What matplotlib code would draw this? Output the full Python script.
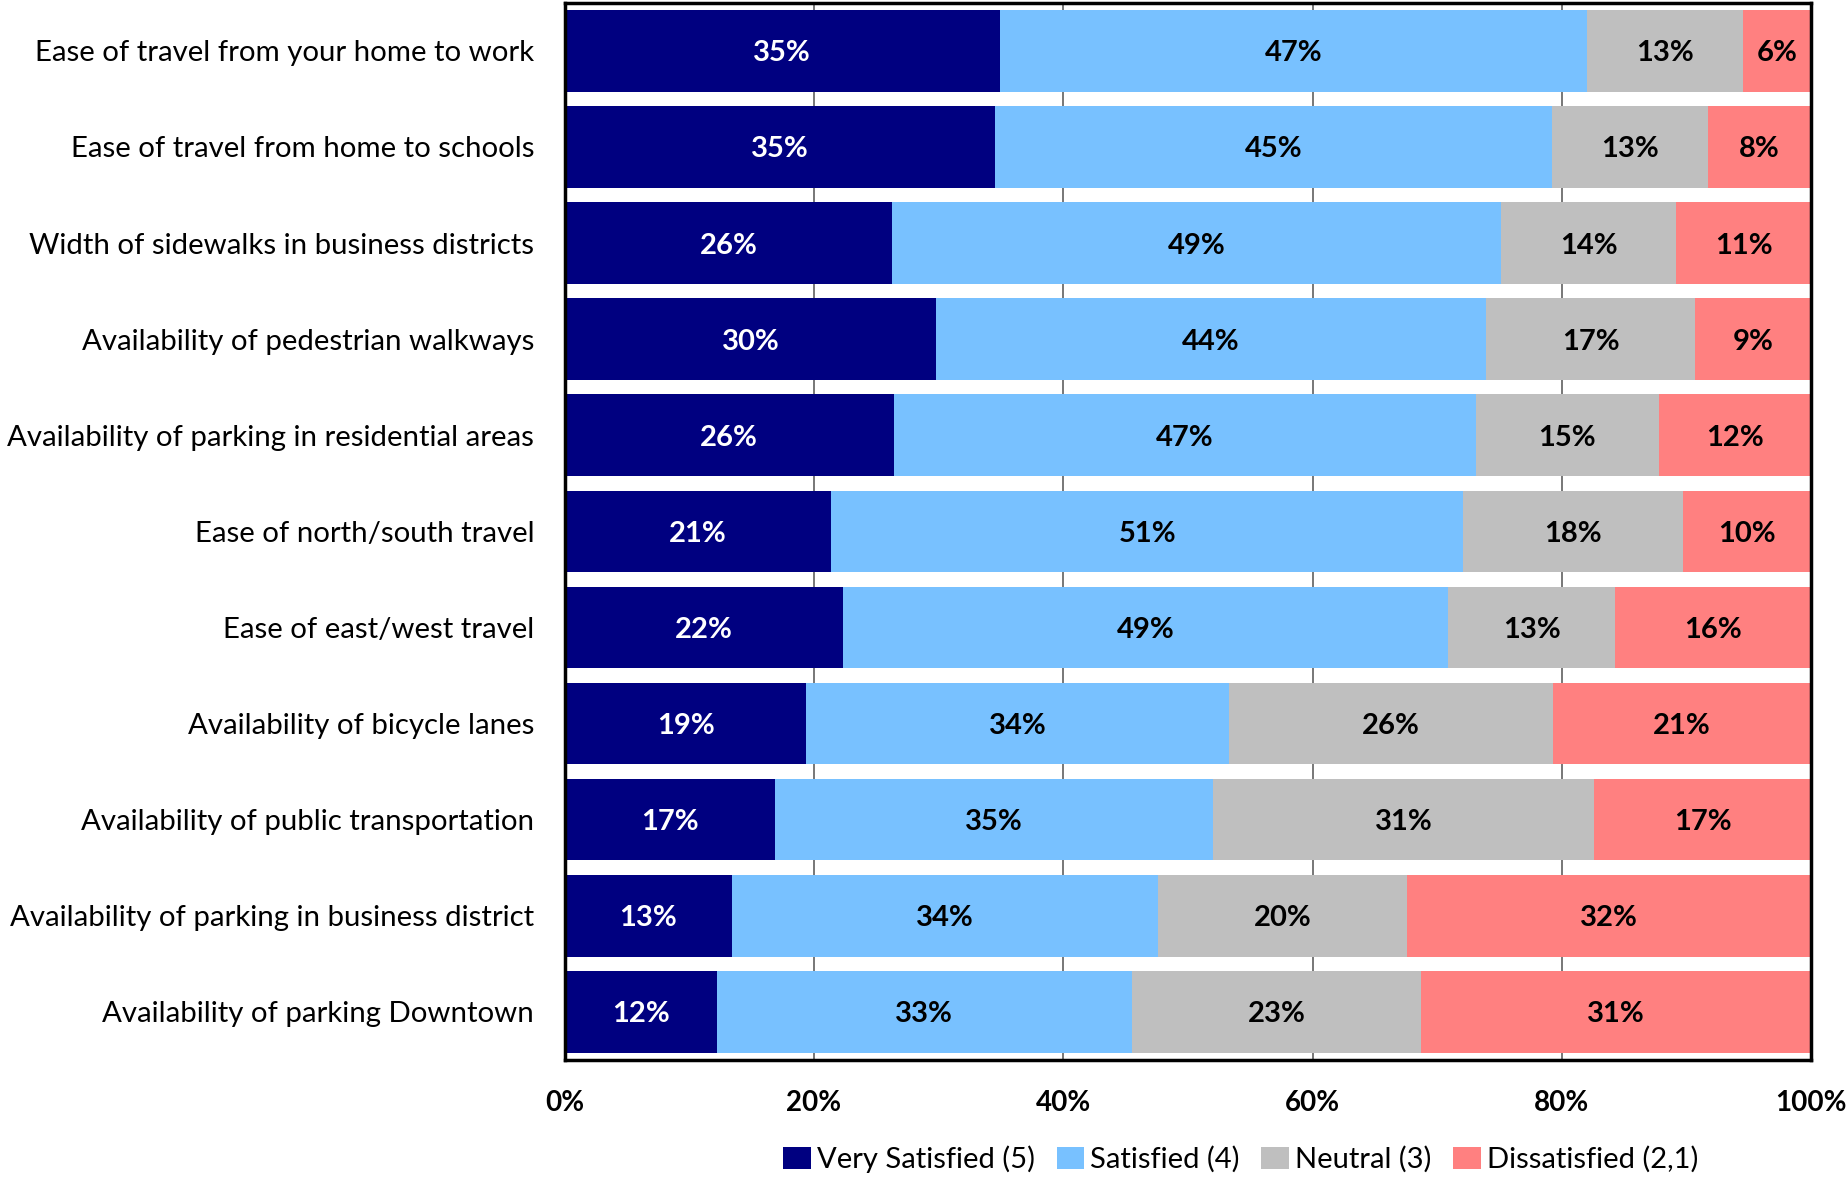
import math
import matplotlib
matplotlib.use("Agg")
import matplotlib.pyplot as plt
import numpy as np

plt.rcParams["font.family"] = ["Lato", "DejaVu Sans"]

categories = [
    "Ease of travel from your home to work",
    "Ease of travel from home to schools",
    "Width of sidewalks in business districts",
    "Availability of pedestrian walkways",
    "Availability of parking in residential areas",
    "Ease of north/south travel",
    "Ease of east/west travel",
    "Availability of bicycle lanes",
    "Availability of public transportation",
    "Availability of parking in business district",
    "Availability of parking Downtown",
]

very_satisfied = [34.9, 34.5, 26.3, 29.8, 26.4, 21.4, 22.3, 19.4, 16.9, 13.4, 12.2]
satisfied = [47.1, 44.7, 48.8, 44.1, 46.7, 50.7, 48.6, 33.9, 35.1, 34.2, 33.3]
neutral = [12.5, 12.5, 14.1, 16.8, 14.7, 17.6, 13.4, 26.0, 30.6, 20.0, 23.2]
dissatisfied = [5.5, 8.3, 10.8, 9.3, 12.2, 10.3, 15.7, 20.7, 17.4, 32.4, 31.3]

series = [
    ("Very Satisfied (5)", very_satisfied, "#000080", "white"),
    ("Satisfied (4)", satisfied, "#78C1FF", "black"),
    ("Neutral (3)", neutral, "#BFBFBF", "black"),
    ("Dissatisfied (2,1)", dissatisfied, "#FF8080", "black"),
]

x_ticks = [0, 20, 40, 60, 80, 100]


def pct(v):
    # round half up, like the spreadsheet does
    return f"{math.floor(v + 0.5):d}%"


fig = plt.figure(figsize=(18.49, 11.77), dpi=100)
ax = fig.add_axes([0.3054, 0.0995, 0.6741, 0.8981])

y = np.arange(len(categories))
left = np.zeros(len(categories))
for name, vals, color, txt_color in series:
    vals = np.array(vals)
    bars = ax.barh(y, vals, left=left, height=0.85, color=color,
                   label=name, zorder=2)
    for b, v in zip(bars, vals):
        ax.text(b.get_x() + b.get_width() / 2, b.get_y() + b.get_height() / 2,
                pct(v), ha="center", va="center_baseline", color=txt_color,
                fontsize=21, fontweight="bold", zorder=3)
    left += vals

ax.set_xlim(0, 100)
ax.set_ylim(len(categories) - 0.5, -0.5)
ax.set_yticks(y)
ax.set_yticklabels(categories, fontsize=21.2)
ax.set_xticks(x_ticks)
ax.set_xticklabels([f"{t}%" for t in x_ticks], fontsize=20, fontweight="bold")
ax.tick_params(axis="y", length=0, pad=22)
ax.tick_params(axis="x", length=0, pad=22)

for t in x_ticks[1:-1]:
    ax.axvline(t, color="#606060", lw=1.2, zorder=1)

for s in ax.spines.values():
    s.set_linewidth(2.5)
    s.set_color("black")
    s.set_zorder(4)

fig.legend(loc="center", bbox_to_anchor=(0.671, 0.0153), ncol=4,
           frameon=False, fontsize=21, handlelength=0.95, handleheight=0.8,
           handletextpad=0.2, columnspacing=0.75, borderpad=0.1)

fig.savefig("out.png", dpi=100)
